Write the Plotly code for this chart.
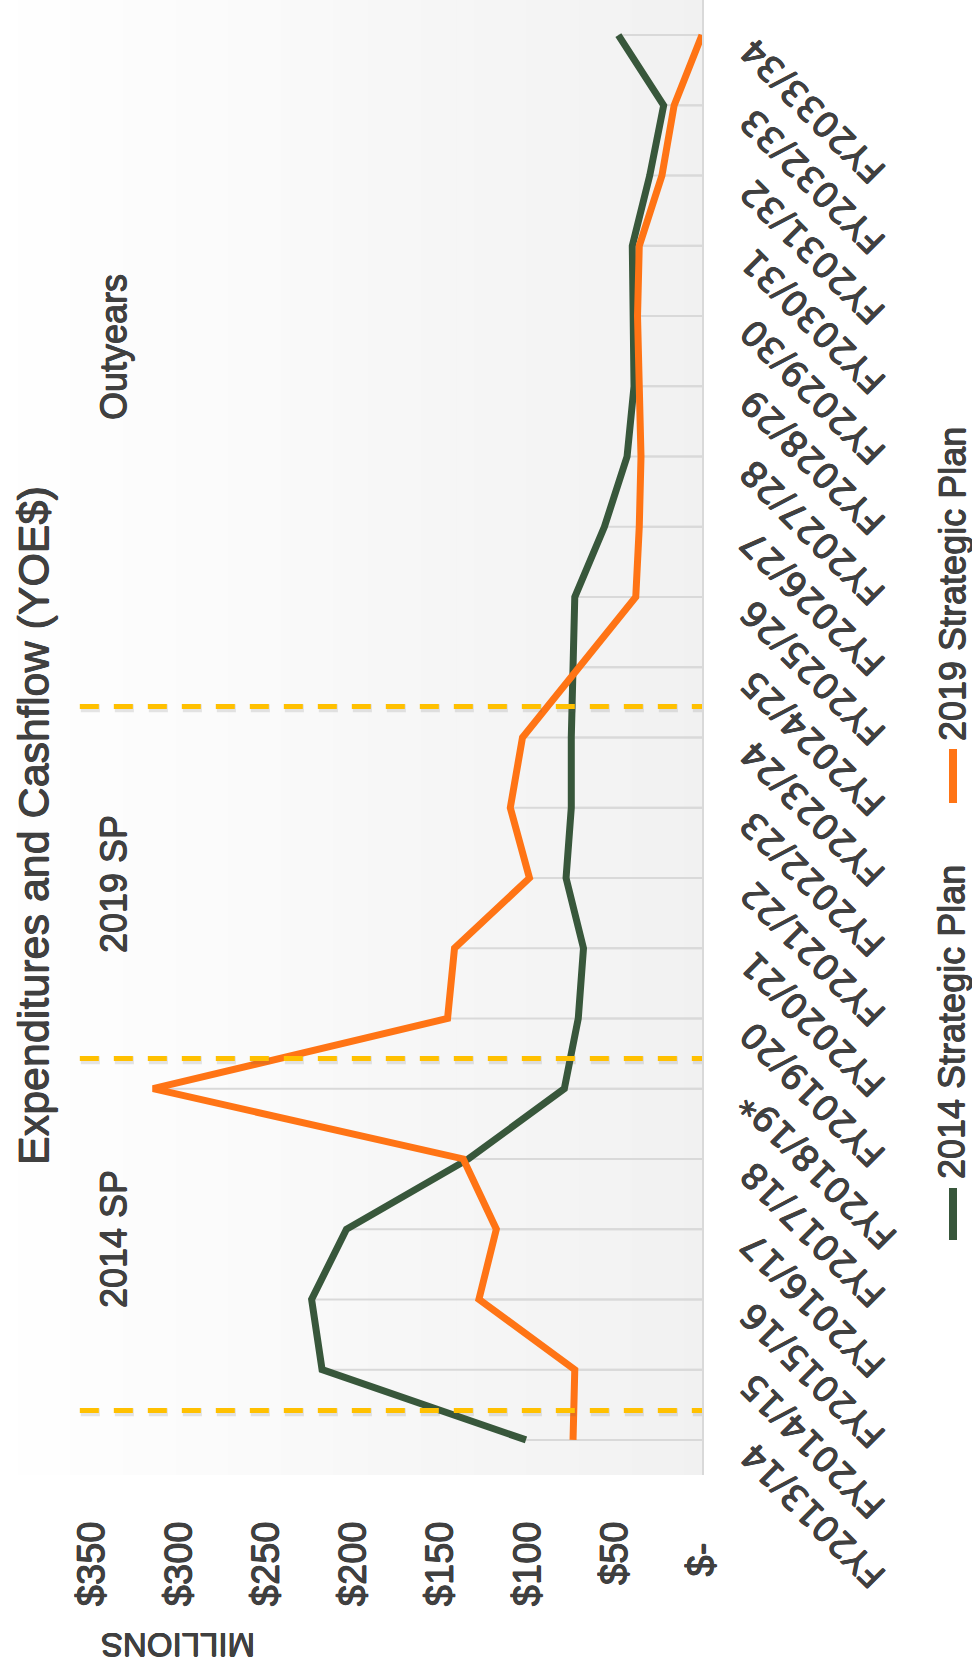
import plotly.graph_objects as go

# Fiscal years on the category axis
fiscal_years = [
    "FY2013/14", "FY2014/15", "FY2015/16", "FY2016/17", "FY2017/18",
    "FY2018/19*", "FY2019/20", "FY2020/21", "FY2021/22", "FY2022/23",
    "FY2023/24", "FY2024/25", "FY2025/26", "FY2026/27", "FY2027/28",
    "FY2028/29", "FY2029/30", "FY2030/31", "FY2031/32", "FY2032/33",
    "FY2033/34",
]

# Annual expenditures, $ millions (YOE$)
plan_2014 = [101, 218, 224, 204, 134, 79, 71, 68, 78, 75, 75, 74, 73,
             56, 43, 39, 40, 40, 30, 22, 48]
plan_2019 = [74, 73, 128, 118, 137, 315, 146, 142, 99, 110, 103, 71, 38,
             36, 35, 36, 37, 36, 23, 16, 0]

# Value axis ticks
value_ticks = [0, 50, 100, 150, 200, 250, 300, 350]
value_tick_text = ["$-\u00a0\u00a0", "$50", "$100", "$150", "$200", "$250", "$300", "$350"]

# Plan-period boundaries (category index positions) and period labels
period_bounds = [0.42, 5.43, 10.44]
period_labels = ["2014 SP", "2019 SP", "Outyears"]
period_label_y = [1239, 884, 347]

GREEN = "#38573B"
ORANGE = "#FF7415"
TEXT = "#404040"
GRID = "#D9D9D9"
YELLOW = "#FFC000"
SANS = "Liberation Sans, Arial, sans-serif"
# slightly heavier strokes for all chart text
HEAVY = ("0.5px 0 0 #404040, -0.5px 0 0 #404040, "
         "0 0.5px 0 #404040, 0 -0.5px 0 #404040")

W, H = 972, 1671
PLOT_R, PLOT_B = 702, 1475


def px_x(px):
    return px / PLOT_R


def px_y(py):
    return 1 - py / PLOT_B


fig = go.Figure()

# Drop lines from every point to the zero line
for series in (plan_2014, plan_2019):
    xs, ys = [], []
    for cat, v in zip(fiscal_years, series):
        xs += [v, 0, None]
        ys += [cat, cat, None]
    fig.add_trace(go.Scatter(x=xs, y=ys, mode="lines",
                             line=dict(color=GRID, width=2),
                             hoverinfo="skip", showlegend=False))

fig.add_trace(go.Scatter(x=plan_2014, y=fiscal_years, mode="lines",
                         name="2014 Strategic Plan",
                         line=dict(color=GREEN, width=7), showlegend=False))
fig.add_trace(go.Scatter(x=plan_2019, y=fiscal_years, mode="lines",
                         name="2019 Strategic Plan",
                         line=dict(color=ORANGE, width=7), showlegend=False))

shapes = []
# Plot-area gradient: white on the left to light grey on the right
n_strips = 40
for i in range(n_strips):
    t = (i + 0.5) / n_strips
    g = round(255 - 14 * t)
    shapes.append(dict(type="rect", xref="paper", yref="paper",
                       x0=i / n_strips, x1=(i + 1) / n_strips + 0.002,
                       y0=0, y1=1, line=dict(width=0),
                       fillcolor=f"rgb({g},{g},{g})", layer="below"))

# Dashed plan-period boundaries with a soft shadow
for b in period_bounds:
    shapes.append(dict(type="line", xref="x", yref="y",
                       x0=357 - 0.6, x1=-0.6, y0=b - 0.025, y1=b - 0.025,
                       line=dict(color="rgba(90,90,90,0.15)", width=8,
                                 dash="19px,15px"),
                       layer="above"))
    shapes.append(dict(type="line", xref="x", yref="y",
                       x0=357, x1=0, y0=b, y1=b,
                       line=dict(color=YELLOW, width=5, dash="19px,15px"),
                       layer="above"))

# Legend swatches
shapes.append(dict(type="line", xref="paper", yref="paper",
                   x0=px_x(953), x1=px_x(953), y0=px_y(1188), y1=px_y(1240),
                   line=dict(color=GREEN, width=8)))
shapes.append(dict(type="line", xref="paper", yref="paper",
                   x0=px_x(953), x1=px_x(953), y0=px_y(749), y1=px_y(803),
                   line=dict(color=ORANGE, width=8)))


def label(text, px, py, size, angle):
    return dict(text=text, xref="paper", yref="paper",
                x=px_x(px), y=px_y(py), xanchor="center", yanchor="middle",
                showarrow=False, textangle=angle,
                font=dict(family=SANS, size=size, color=TEXT, shadow=HEAVY))


annotations = [label("Expenditures and Cashflow (YOE$)", 33, 826, 43, -90)]
for lbl, py in zip(period_labels, period_label_y):
    annotations.append(label(lbl, 113, py, 36, -90))
annotations.append(label("MILLIONS", 178, 1645, 33, 180))
annotations.append(label("2014 Strategic Plan", 952, 1022, 36, -90))
annotations.append(label("2019 Strategic Plan", 952, 584, 36, -90))

# Category labels, turned so they read up and to the left toward the axis
for cat in fiscal_years:
    annotations.append(dict(text=cat, xref="paper", yref="y",
                            x=px_x(731), y=cat, yshift=6,
                            xanchor="left", yanchor="top",
                            showarrow=False, textangle=-135, borderpad=0,
                            font=dict(family="DejaVu Sans, sans-serif",
                                      size=35, color=TEXT, shadow=HEAVY)))

fig.update_layout(
    width=W, height=H,
    margin=dict(l=0, r=W - PLOT_R, t=0, b=H - PLOT_B, pad=0),
    paper_bgcolor="white", plot_bgcolor="rgba(0,0,0,0)",
    shapes=shapes, annotations=annotations, showlegend=False,
    xaxis=dict(range=[402.8, 0], tickvals=value_ticks, ticktext=value_tick_text,
               tickangle=-90, showgrid=False, zeroline=False, showline=False,
               ticks="", ticklabelstandoff=38, automargin=False,
               tickfont=dict(family=SANS, size=38, color=TEXT, shadow=HEAVY)),
    yaxis=dict(type="category", categoryorder="array", categoryarray=fiscal_years,
               range=[-0.5, 20.5], side="right", showgrid=False, zeroline=False,
               showline=True, linecolor=GRID, linewidth=2, ticks="",
               showticklabels=False, automargin=False),
)

fig.write_html("out.html")
